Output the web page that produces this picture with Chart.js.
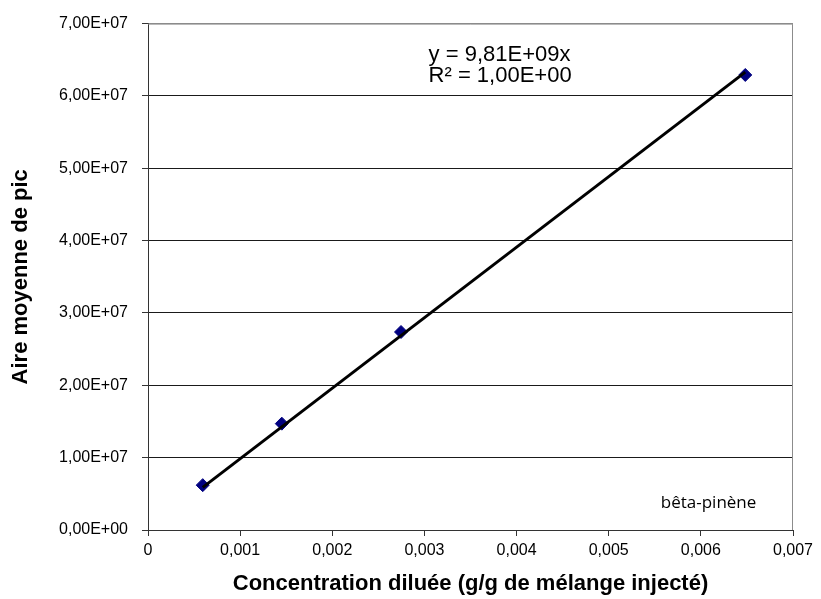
<!DOCTYPE html>
<html>
<head>
<meta charset="utf-8">
<script src="https://cdn.jsdelivr.net/npm/chart.js@4/dist/chart.umd.min.js"></script>
<style>
  body { margin: 0; background: #fff; }
  #wrap { width: 821px; height: 599px; }
</style>
</head>
<body>
<div id="wrap"><canvas id="myChart"></canvas></div>
<script>
// concentrations (g/g) et aires moyennes
let concentrations = [0.000594, 0.001452, 0.002746, 0.006482];
let aires = [6.2e6, 1.47e7, 2.737e7, 6.29e7];

// courbe de tendance (extrémités lues)
let trendX = [0.000594, 0.006482];
let trendY = [5.9e6, 6.33e7];

let equationLines = ['y = 9,81E+09x', 'R\u00b2 = 1,00E+00'];
let seriesLabel = 'b\u00eata-pin\u00e8ne';
let xTitle = 'Concentration dilu\u00e9e (g/g de m\u00e9lange inject\u00e9)';
let yTitle = 'Aire moyenne de pic';

let arial = "'Liberation Sans', Arial, sans-serif";

function fmtX(v) {
    if (Math.abs(v) < 1e-12) return '0';
    return v.toFixed(3).replace('.', ',');
}
function fmtY(v) {
    if (Math.abs(v) < 1) return '0,00E+00';
    let e = Math.floor(Math.log10(v) + 1e-9);
    let m = v / Math.pow(10, e);
    return m.toFixed(2).replace('.', ',') + 'E+' + String(e).padStart(2, '0');
}

// cadre gris + textes
let annotations = {
    id: 'annotations',
    afterDatasetsDraw(chart) {
        let c = chart.ctx;
        let a = chart.chartArea;
        c.save();
        c.strokeStyle = '#8c8c8c';
        c.lineWidth = 1;
        c.beginPath();
        c.moveTo(a.left, a.top + 0.5);
        c.lineTo(a.right - 0.5, a.top + 0.5);
        c.lineTo(a.right - 0.5, a.bottom);
        c.stroke();

        c.fillStyle = '#000';
        c.font = '22px ' + arial;
        c.textAlign = 'left';
        c.textBaseline = 'alphabetic';
        let ex = a.left + (a.right - a.left) * 0.435;
        c.fillText(equationLines[0], ex, a.top + 37);
        c.fillText(equationLines[1], ex, a.top + 58);

        c.font = "17px 'Open Sans', 'Noto Sans', sans-serif";
        c.fillText(seriesLabel, a.left + (a.right - a.left) * 0.795, a.bottom - 22);
        c.restore();
    }
};

let ctx = document.querySelector('#myChart').getContext('2d');

let graphData = {
    type: 'scatter',
    data: {
        datasets: [
            {
                label: 'tendance',
                data: trendX.map((x, i) => ({ x: x, y: trendY[i] })),
                showLine: true,
                borderColor: '#000',
                borderWidth: 3,
                pointRadius: 0,
                order: 0
            },
            {
                label: seriesLabel,
                data: concentrations.map((x, i) => ({ x: x, y: aires[i] })),
                pointStyle: 'rectRot',
                pointRadius: 6.5,
                backgroundColor: '#000080',
                borderColor: '#000080',
                borderWidth: 1,
                order: 1
            }
        ]
    },
    options: {
        responsive: true,
        maintainAspectRatio: false,
        animation: false,
        layout: { padding: { top: 17, right: 28, left: 0, bottom: 0 } },
        plugins: {
            legend: { display: false },
            tooltip: { enabled: false }
        },
        scales: {
            x: {
                type: 'linear',
                min: 0,
                max: 0.007,
                afterFit(scale) { scale.height = 69; },
                ticks: {
                    stepSize: 0.001,
                    padding: 5,
                    color: '#000',
                    font: { family: arial, size: 16 },
                    maxRotation: 0,
                    callback: (v) => fmtX(v)
                },
                grid: {
                    drawOnChartArea: false,
                    drawTicks: true,
                    tickLength: 6,
                    tickColor: '#333'
                },
                border: { color: '#333', width: 1 },
                title: {
                    display: true,
                    text: xTitle,
                    color: '#000',
                    font: { family: arial, size: 22, weight: 'bold' },
                    padding: { top: 0, bottom: 2 }
                }
            },
            y: {
                type: 'linear',
                min: 0,
                max: 7e7,
                afterFit(scale) { scale.width = 148; },
                ticks: {
                    stepSize: 1e7,
                    padding: 14,
                    color: '#000',
                    font: { family: arial, size: 16 },
                    callback: (v) => fmtY(v)
                },
                grid: {
                    color: (c) => c.tick && c.tick.value >= 7e7 ? '#8c8c8c' : '#1a1a1a',
                    tickColor: '#333',
                    tickLength: 6,
                    lineWidth: 1
                },
                border: { color: '#333', width: 1 },
                title: {
                    display: true,
                    text: yTitle,
                    color: '#000',
                    font: { family: arial, size: 22, weight: 'bold' },
                    padding: { top: 8, bottom: 0 }
                }
            }
        }
    },
    plugins: [annotations]
};

let myChart = new Chart(ctx, graphData);
</script>
</body>
</html>
